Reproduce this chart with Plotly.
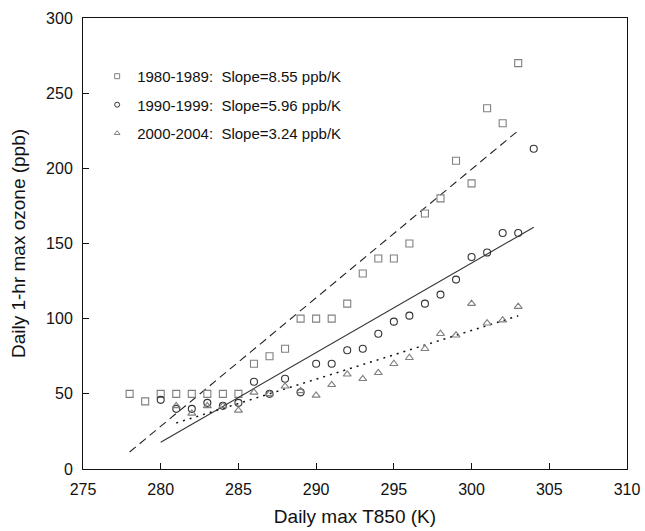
import plotly.graph_objects as go

# 1980-1989
sq_x = list(range(278, 304))
sq_y = [50, 45, 50, 50, 50, 50, 50, 50, 70, 75, 80, 100, 100, 100, 110, 130,
        140, 140, 150, 170, 180, 205, 190, 240, 230, 270]
# 1990-1999
ci_x = list(range(280, 305))
ci_y = [46, 40, 40, 44, 42, 44, 58, 50, 60, 51, 70, 70, 79, 80, 90, 98, 102,
        110, 116, 126, 141, 144, 157, 157, 213]
# 2000-2004
tr_x = list(range(281, 304))
tr_y = [42, 37, 42, 42, 39, 51, 50, 55, 52, 49, 56, 63, 60, 64, 70, 74, 80,
        90, 89, 110, 97, 99, 108]

# Fitted lines: (x start, x end, y at start, slope)
fit_80 = (278, 303, 11.3, 8.55)
fit_90 = (280, 304, 17.8, 5.96)
fit_00 = (281, 303, 30.6, 3.24)

labels = ["1980-1989:\u00a0 Slope=8.55 ppb/K",
          "1990-1999:\u00a0 Slope=5.96 ppb/K",
          "2000-2004:\u00a0 Slope=3.24 ppb/K"]

x_ticks = [275, 280, 285, 290, 295, 300, 305, 310]
y_ticks = [0, 50, 100, 150, 200, 250, 300]

GRAY = "#808080"
DARK = "#333333"

def fit_xy(f):
    x0, x1, y0, s = f
    return [x0, x1], [y0, y0 + s * (x1 - x0)]

fig = go.Figure()

specs = [
    (sq_x, sq_y, "square-open", GRAY, fit_80, "8px,5px", "#222222", 1.1),
    (ci_x, ci_y, "circle-open", DARK, fit_90, "solid", "#333333", 1.1),
    (tr_x, tr_y, "triangle-up-open", GRAY, fit_00, "2px,5px", "#111111", 1.5),
]

for i, (xs, ys, sym, col, fit, dash, lcol, lw) in enumerate(specs):
    fx, fy = fit_xy(fit)
    fig.add_trace(go.Scatter(x=fx, y=fy, mode="lines",
                             line=dict(color=lcol, width=lw, dash=dash),
                             showlegend=False, hoverinfo="skip"))
    fig.add_trace(go.Scatter(x=xs, y=ys, mode="markers",
                             marker=dict(symbol=sym, size=7, color=col,
                                         line=dict(color=col, width=1.1)),
                             showlegend=False))
    # legend entry
    fig.add_trace(go.Scatter(x=[None], y=[None], mode="markers", name=labels[i],
                             legendgroup="g%d" % i,
                             marker=dict(symbol=sym, size=5, color=col,
                                         line=dict(color=col, width=1))))

FONT = "Liberation Sans, Arial, sans-serif"

fig.update_layout(
    width=645, height=531,
    margin=dict(l=83, r=18, t=18, b=62),
    paper_bgcolor="white", plot_bgcolor="white",
    font=dict(family=FONT, size=16, color="#111111"),
    showlegend=True,
    legend=dict(x=0.026, y=0.907, xanchor="left", yanchor="top",
                bgcolor="rgba(0,0,0,0)", font=dict(size=15, color="#111111"),
                itemwidth=30, traceorder="grouped", tracegroupgap=6),
    xaxis=dict(range=[275, 310], tickvals=x_ticks, ticks="inside", ticklen=6,
               tickcolor="#111111", showgrid=False, zeroline=False,
               showline=True, linecolor="#111111", linewidth=1, mirror=True,
               title=dict(text="Daily max T850 (K)", standoff=12),
               ticklabelstandoff=6, automargin=False),
    yaxis=dict(range=[0, 300], tickvals=y_ticks, ticks="inside", ticklen=6,
               tickcolor="#111111", showgrid=False, zeroline=False,
               showline=True, linecolor="#111111", linewidth=1, mirror=True,
               title=dict(text="Daily 1-hr max ozone (ppb)", standoff=15),
               ticklabelstandoff=6, automargin=False),
)

fig.write_html("out.html")
